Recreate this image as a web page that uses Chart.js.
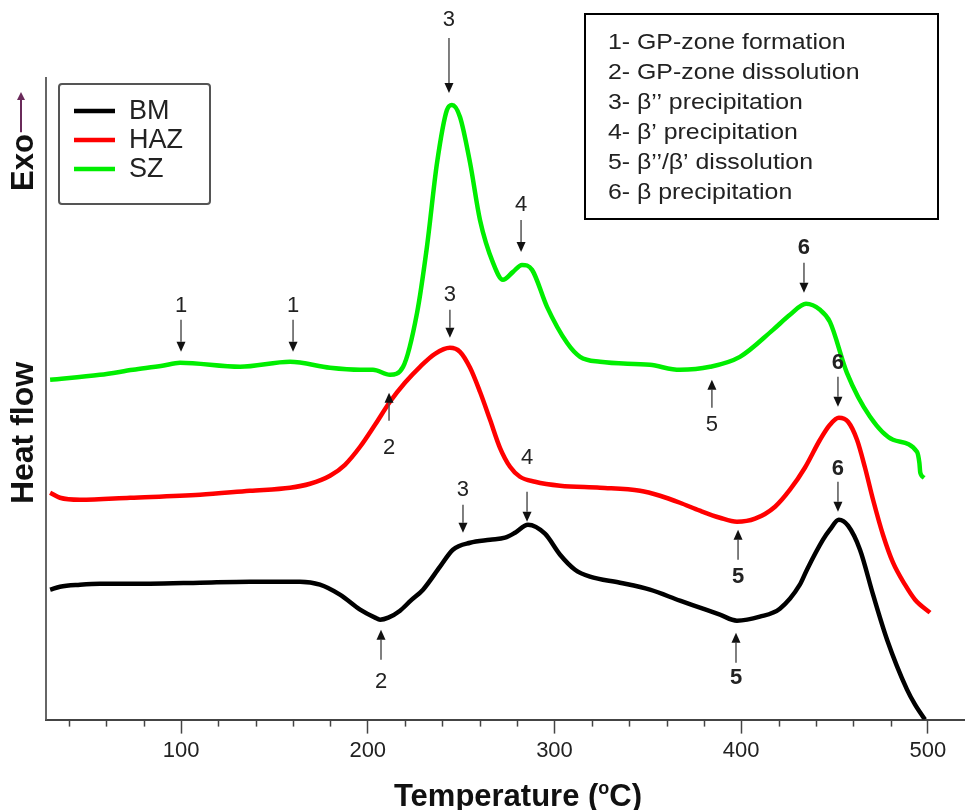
<!DOCTYPE html>
<html>
<head>
<meta charset="utf-8">
<script src="https://cdn.jsdelivr.net/npm/chart.js@4.4.1/dist/chart.umd.min.js"></script>
<style>
  html, body { margin: 0; padding: 0; background: #fff; }
  #wrap { width: 966px; height: 810px; }
</style>
</head>
<body>
<div id="wrap"><canvas id="dsc"></canvas></div>
<script>
// DSC traces, temperature in °C, heat flow in arbitrary units (exo up)
const TEMP_BM = [29.9, 35.2, 45.9, 56.6, 83.4, 110.2, 136.9, 163.7, 174.4, 185.1, 195.9, 203.9, 206.6, 211.0, 217.3, 223.0, 229.6, 238.7, 245.6, 254.8, 265.5, 273.5, 278.9, 285.8, 294.9, 303.0, 311.0, 319.0, 335.1, 351.1, 367.2, 377.9, 388.6, 397.7, 410.0, 420.7, 431.4, 435.2, 443.8, 447.5, 452.3, 457.2, 463.6, 470.6, 478.1, 488.8, 493.1, 498.4];
const FLOW_BM = [13.0, 13.3, 13.5, 13.6, 13.6, 13.7, 13.8, 13.8, 13.5, 12.5, 11.0, 10.2, 10.0, 10.2, 10.9, 11.9, 13.0, 15.3, 17.0, 17.7, 18.0, 18.2, 18.7, 19.5, 18.6, 16.5, 15.0, 14.3, 13.7, 13.0, 11.9, 11.2, 10.5, 9.9, 10.3, 11.1, 13.5, 15.0, 18.0, 19.0, 20.0, 19.4, 17.0, 12.5, 8.0, 3.0, 1.5, 0.0];

const TEMP_HAZ = [29.9, 35.2, 45.9, 72.7, 110.2, 136.9, 158.4, 169.1, 179.8, 187.8, 195.9, 203.9, 211.9, 219.9, 228.0, 236.0, 244.0, 249.4, 254.8, 260.1, 265.5, 270.8, 276.2, 281.5, 289.6, 303.0, 324.4, 345.8, 356.5, 367.2, 377.9, 388.6, 397.7, 407.4, 418.1, 426.1, 434.1, 442.2, 447.5, 452.3, 457.2, 462.0, 466.3, 470.6, 475.9, 481.3, 487.7, 493.1, 501.1];
const FLOW_HAZ = [22.7, 22.2, 22.0, 22.2, 22.5, 22.9, 23.2, 23.6, 24.4, 25.5, 27.3, 29.5, 31.8, 33.7, 35.3, 36.6, 37.2, 36.8, 35.2, 32.8, 30.0, 27.2, 25.3, 24.3, 23.8, 23.4, 23.2, 22.9, 22.4, 21.7, 20.9, 20.2, 19.8, 20.1, 21.3, 23.0, 25.2, 28.0, 29.5, 30.2, 29.8, 28.0, 25.2, 22.0, 18.5, 15.7, 13.5, 12.0, 10.7];

const TEMP_SZ = [29.9, 56.6, 74.3, 90.0, 99.5, 131.6, 158.4, 179.8, 195.9, 202.8, 211.9, 218.9, 226.4, 231.7, 237.1, 242.4, 245.1, 249.4, 254.8, 260.1, 267.1, 272.4, 277.8, 282.6, 288.0, 296.0, 306.7, 313.7, 324.4, 351.1, 367.2, 383.3, 399.3, 417.0, 426.1, 434.7, 442.2, 447.5, 456.6, 469.0, 481.3, 494.1, 495.4, 495.9, 498.0];
const FLOW_SZ = [34.0, 34.5, 35.0, 35.4, 35.7, 35.3, 35.8, 35.2, 35.0, 35.0, 34.5, 35.3, 40.7, 47.3, 55.7, 61.0, 61.5, 60.3, 55.7, 50.0, 45.7, 44.0, 44.8, 45.5, 45.0, 41.3, 37.7, 36.3, 35.8, 35.5, 35.0, 35.3, 36.3, 39.0, 40.5, 41.6, 41.0, 39.8, 34.7, 30.3, 28.0, 26.8, 25.7, 24.7, 24.2];

const SERIES_NAMES = ["BM", "HAZ", "SZ"];
const SERIES_COLORS = ["#000000", "#ff0000", "#00ee00"];

const X_TICKS = [40, 60, 80, 100, 120, 140, 160, 180, 200, 220, 240, 260, 280, 300, 320, 340, 360, 380, 400, 420, 440, 460, 480, 500];
const X_LABELED = [100, 200, 300, 400, 500];

const NOTES = [
  "1- GP-zone formation",
  "2- GP-zone dissolution",
  "3- β’’ precipitation",
  "4- β’ precipitation",
  "5- β’’/β’ dissolution",
  "6- β precipitation",
];

// peak markers: arrow tip sits at (t, v); len/gap in px
const MARKS = [
  { n: "1", t: 100.0, v: 36.8, dir: "down", len: 32, gap: 14 },
  { n: "1", t: 160.0, v: 36.8, dir: "down", len: 32, gap: 14 },
  { n: "2", t: 211.4, v: 32.7, dir: "up", len: 28, gap: 27 },
  { n: "3", t: 243.5, v: 62.7, dir: "down", len: 55, gap: 18 },
  { n: "4", t: 282.1, v: 46.8, dir: "down", len: 32, gap: 15 },
  { n: "5", t: 384.3, v: 34.0, dir: "up", len: 28, gap: 17 },
  { n: "6", t: 433.6, v: 42.7, dir: "down", len: 30, gap: 15, bold: true },
  { n: "3", t: 244.0, v: 38.2, dir: "down", len: 28, gap: 15 },
  { n: "5", t: 398.3, v: 19.0, dir: "up", len: 30, gap: 17, bold: true },
  { n: "6", t: 451.8, v: 31.3, dir: "down", len: 30, gap: 14, bold: true },
  { n: "3", t: 251.0, v: 18.7, dir: "down", len: 28, gap: 15 },
  { n: "4", t: 285.3, v: 19.8, dir: "down", len: 30, gap: 34 },
  { n: "2", t: 207.1, v: 9.0, dir: "up", len: 30, gap: 22 },
  { n: "5", t: 397.2, v: 8.7, dir: "up", len: 30, gap: 15, bold: true },
  { n: "6", t: 451.8, v: 20.8, dir: "down", len: 30, gap: 13, bold: true },
];

const FONT = "'Liberation Sans', Arial, sans-serif";

function toPoints(xs, ys) {
  return xs.map((x, i) => ({ x, y: ys[i] }));
}

function drawArrow(ctx, x, tipY, len, dir) {
  const tail = dir === "down" ? tipY - len : tipY + len;
  const head = dir === "down" ? tipY - 10 : tipY + 10;
  ctx.strokeStyle = "#555";
  ctx.lineWidth = 1.5;
  ctx.beginPath();
  ctx.moveTo(x, tail);
  ctx.lineTo(x, head);
  ctx.stroke();
  ctx.fillStyle = "#111";
  ctx.beginPath();
  ctx.moveTo(x, tipY);
  ctx.lineTo(x - 4.5, head);
  ctx.lineTo(x + 4.5, head);
  ctx.closePath();
  ctx.fill();
  return tail;
}

const decor = {
  id: "decor",
  afterDraw(chart) {
    const { ctx, chartArea: area, scales } = chart;
    const xs = scales.x;
    const ys = scales.y;
    ctx.save();

    // left axis line
    ctx.strokeStyle = "#666";
    ctx.lineWidth = 2;
    ctx.beginPath();
    ctx.moveTo(area.left, area.top);
    ctx.lineTo(area.left, area.bottom);
    ctx.stroke();

    // short minor ticks
    ctx.strokeStyle = "#444";
    ctx.lineWidth = 1.5;
    X_TICKS.filter((v) => !X_LABELED.includes(v)).forEach((v) => {
      const px = Math.round(xs.getPixelForValue(v)) + 0.5;
      ctx.beginPath();
      ctx.moveTo(px, area.bottom);
      ctx.lineTo(px, area.bottom + 7);
      ctx.stroke();
    });

    // x title with superscript
    ctx.fillStyle = "#111";
    ctx.textBaseline = "alphabetic";
    const big = "bold 31px " + FONT;
    const small = "bold 18px " + FONT;
    const parts = [["Temperature (", big, 0], ["o", small, -12], ["C)", big, 0]];
    let total = 0;
    parts.forEach(([s, f]) => { ctx.font = f; total += ctx.measureText(s).width; });
    let cx = 518 - total / 2;
    parts.forEach(([s, f, dy]) => {
      ctx.font = f;
      ctx.fillText(s, cx, 806 + dy);
      cx += ctx.measureText(s).width;
    });

    // rotated y labels
    ctx.save();
    ctx.translate(22, 0);
    ctx.rotate(-Math.PI / 2);
    ctx.textBaseline = "middle";
    ctx.font = "bold 32px " + FONT;
    ctx.textAlign = "center";
    ctx.fillStyle = "#111";
    ctx.fillText("Heat flow", -433, 2);
    ctx.font = "bold 31px " + FONT;
    ctx.textAlign = "left";
    ctx.fillText("Exo", -191, 2);
    const exoEnd = -191 + ctx.measureText("Exo").width + 2;
    ctx.strokeStyle = "#6a2a5a";
    ctx.fillStyle = "#6a2a5a";
    ctx.lineWidth = 2;
    ctx.beginPath();
    ctx.moveTo(exoEnd, -1);
    ctx.lineTo(-95, -1);
    ctx.stroke();
    ctx.beginPath();
    ctx.moveTo(-92, -1);
    ctx.lineTo(-100, -5);
    ctx.lineTo(-100, 3);
    ctx.closePath();
    ctx.fill();
    ctx.restore();

    // series legend
    ctx.strokeStyle = "#555";
    ctx.lineWidth = 2;
    ctx.beginPath();
    ctx.roundRect(59, 84, 151, 120, 3);
    ctx.stroke();
    ctx.font = "27px " + FONT;
    ctx.textBaseline = "middle";
    ctx.textAlign = "left";
    SERIES_NAMES.forEach((name, i) => {
      const y = 111 + i * 29;
      ctx.strokeStyle = SERIES_COLORS[i];
      ctx.lineWidth = 4.5;
      ctx.beginPath();
      ctx.moveTo(74, y);
      ctx.lineTo(115, y);
      ctx.stroke();
      ctx.fillStyle = "#222";
      ctx.fillText(name, 129, y + 1);
    });

    // notes box
    ctx.strokeStyle = "#000";
    ctx.lineWidth = 2;
    ctx.strokeRect(585, 14, 353, 205);
    ctx.font = "22px " + FONT;
    ctx.fillStyle = "#222";
    NOTES.forEach((line, i) => {
      ctx.save();
      ctx.translate(608, 43 + i * 30);
      ctx.scale(1.13, 1);
      ctx.fillText(line, 0, 0);
      ctx.restore();
    });

    // peak markers
    ctx.textAlign = "center";
    MARKS.forEach((m) => {
      const px = xs.getPixelForValue(m.t);
      const tip = ys.getPixelForValue(m.v);
      const tail = drawArrow(ctx, px, tip, m.len, m.dir);
      const ly = m.dir === "down" ? tail - m.gap : tail + m.gap;
      ctx.font = (m.bold ? "bold " : "") + "22px " + FONT;
      ctx.fillStyle = "#222";
      ctx.fillText(m.n, px, ly);
    });

    ctx.restore();
  },
};

const datasets = [
  [TEMP_BM, FLOW_BM],
  [TEMP_HAZ, FLOW_HAZ],
  [TEMP_SZ, FLOW_SZ],
].map(([t, f], i) => ({
  label: SERIES_NAMES[i],
  data: toPoints(t, f),
  borderColor: SERIES_COLORS[i],
  borderWidth: 4.5,
  pointRadius: 0,
  cubicInterpolationMode: "monotone",
  fill: false,
}));

new Chart(document.getElementById("dsc"), {
  type: "line",
  data: { datasets },
  options: {
    responsive: true,
    maintainAspectRatio: false,
    animation: false,
    layout: { padding: { left: 46, top: 77, right: 2, bottom: 42 } },
    plugins: {
      legend: { display: false },
      tooltip: { enabled: false },
    },
    scales: {
      x: {
        type: "linear",
        min: 27.7,
        max: 519.3,
        afterBuildTicks: (scale) => {
          scale.ticks = X_TICKS.map((value) => ({ value }));
        },
        ticks: {
          autoSkip: false,
          maxRotation: 0,
          padding: 4,
          color: "#222",
          font: { family: FONT, size: 22 },
          callback: (v) => (X_LABELED.includes(v) ? String(v) : ""),
        },
        grid: {
          drawOnChartArea: false,
          tickLength: 14,
          tickWidth: 1.5,
          tickColor: (c) => (c.tick && X_LABELED.includes(c.tick.value) ? "#444" : "rgba(0,0,0,0)"),
        },
        border: { display: true, color: "#444", width: 2 },
      },
      y: {
        type: "linear",
        display: false,
        min: 0,
        max: 64.3,
      },
    },
  },
  plugins: [decor],
});
</script>
</body>
</html>
